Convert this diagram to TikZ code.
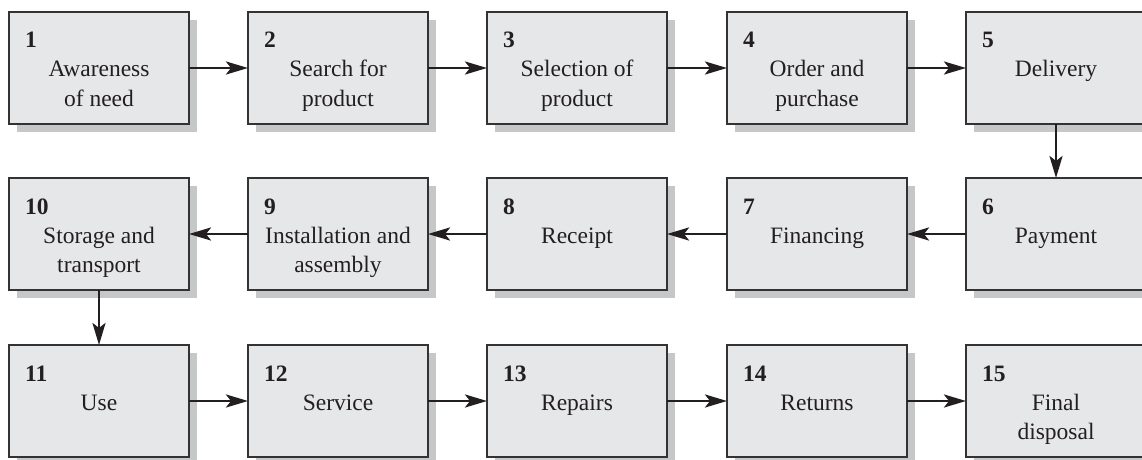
\documentclass[tikz,border=0pt]{standalone}
\usepackage{fontspec}
\setmainfont{Liberation Serif}
\usetikzlibrary{arrows.meta}
\definecolor{boxfill}{HTML}{E6E7E9}
\definecolor{boxshade}{HTML}{C6C7C9}
\definecolor{boxline}{HTML}{333333}
\definecolor{ink}{HTML}{231F20}
\tikzset{
  stagebox/.style={draw=boxline, line width=1.4pt, fill=boxfill,
    minimum width=180pt, minimum height=112pt, inner sep=0pt, outer sep=0pt},
  numlabel/.style={anchor=base west, inner sep=0pt, text=ink,
    font=\fontsize{23.5}{29}\selectfont\bfseries},
  steptext/.style={anchor=base, inner sep=0pt, text=ink,
    font=\fontsize{23.5}{29}\selectfont},
  flow/.style={draw=ink, line width=2.7pt,
    -{Stealth[length=22pt, width=13pt, inset=5pt]}}
}
% #1 name, #2 left x, #3 top y, #4 number, #5 first line, #6 second line
\newcommand{\stage}[6]{%
  \fill[boxshade] (#2+8,-#3-8) rectangle (#2+188,-#3-120);
  \node[stagebox, anchor=north west] (#1) at (#2,-#3) {};
  \node[numlabel] (#1n) at (#2+16,-#3-36) {#4};
  \node[steptext] (#1a) at (#2+90,-#3-65) {#5};
  \node[steptext] (#1b) at (#2+90,-#3-94) {#6};
}
\begin{document}
\begin{tikzpicture}[x=1pt,y=1pt]
\useasboundingbox (0,0) rectangle (1142,-460);
% row 1
\stage{s1}{9}{12}{1}{Awareness}{of need}
\stage{s2}{248}{12}{2}{Search for}{product}
\stage{s3}{487}{12}{3}{Selection of}{product}
\stage{s4}{727}{12}{4}{Order and}{purchase}
\stage{s5}{966}{12}{5}{Delivery}{}
% row 2
\stage{s10}{9}{178}{10}{Storage and}{transport}
\stage{s9}{248}{178}{9}{Installation and}{assembly}
\stage{s8}{487}{178}{8}{Receipt}{}
\stage{s7}{727}{178}{7}{Financing}{}
\stage{s6}{966}{178}{6}{Payment}{}
% row 3
\stage{s11}{9}{345}{11}{Use}{}
\stage{s12}{248}{345}{12}{Service}{}
\stage{s13}{487}{345}{13}{Repairs}{}
\stage{s14}{727}{345}{14}{Returns}{}
\stage{s15}{966}{345}{15}{Final}{disposal}
% connectors
\draw[flow] (s1.east) -- (s2.west);
\draw[flow] (s2.east) -- (s3.west);
\draw[flow] (s3.east) -- (s4.west);
\draw[flow] (s4.east) -- (s5.west);
\draw[flow] (s5.south) -- (s6.north);
\draw[flow] (s6.west) -- (s7.east);
\draw[flow] (s7.west) -- (s8.east);
\draw[flow] (s8.west) -- (s9.east);
\draw[flow] (s9.west) -- (s10.east);
\draw[flow] (s10.south) -- (s11.north);
\draw[flow] (s11.east) -- (s12.west);
\draw[flow] (s12.east) -- (s13.west);
\draw[flow] (s13.east) -- (s14.west);
\draw[flow] (s14.east) -- (s15.west);
\end{tikzpicture}
\end{document}
